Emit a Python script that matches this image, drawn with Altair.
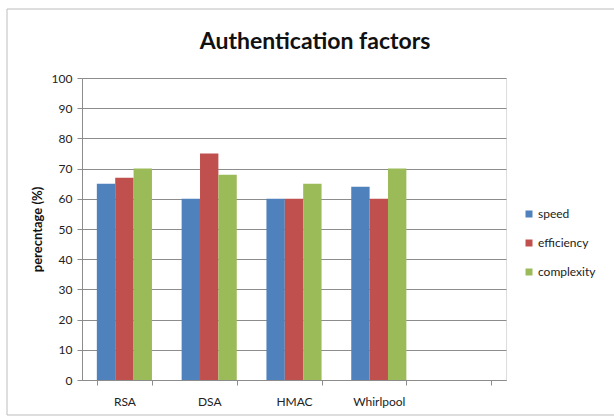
import altair as alt
import pandas as pd

# Algorithms on the x axis (the last slot is left empty)
algorithms = ["RSA", "DSA", "HMAC", "Whirlpool"]
x_slots = algorithms + [" "]

# Series and their values per algorithm (percent)
series = ["speed", "efficiency", "complexity"]
speed = [65, 60, 60, 64]
efficiency = [67, 75, 60, 60]
complexity = [70, 68, 65, 70]

colors = ["#4F81BD", "#C0504D", "#9BBB59"]
y_ticks = list(range(0, 101, 10))

rows = []
for name, vals in zip(series, [speed, efficiency, complexity]):
    for alg, v in zip(algorithms, vals):
        rows.append({"algorithm": alg, "factor": name, "value": v})
df = pd.DataFrame(rows)

FONT = "Lato"

bars = alt.Chart(df).mark_bar().encode(
    x=alt.X(
        "algorithm:N",
        scale=alt.Scale(domain=x_slots, paddingInner=0.35, paddingOuter=0.175),
        axis=alt.Axis(
            title=None,
            labelAngle=0,
            labelFont=FONT,
            labelFontSize=12,
            labelColor="#222222",
            labelPadding=11,
            tickBand="extent",
            ticks=True,
            tickSize=5,
            tickColor="#8c8c8c",
            domainColor="#8c8c8c",
            grid=False,
        ),
    ),
    xOffset=alt.XOffset("factor:N", scale=alt.Scale(domain=series)),
    y=alt.Y(
        "value:Q",
        scale=alt.Scale(domain=[0, 100], nice=False),
        axis=alt.Axis(
            title="perecntage (%)",
            values=y_ticks,
            titleFont=FONT,
            titleFontSize=13,
            titleFontWeight="bold",
            titleColor="#111111",
            titleAngle=-90,
            titleX=-45,
            titleY=151,
            titleAlign="center",
            titleBaseline="middle",
            labelFont=FONT,
            labelFontSize=12,
            labelColor="#222222",
            labelPadding=5,
            tickSize=5,
            tickColor="#8c8c8c",
            domainColor="#8c8c8c",
            gridColor="#8c8c8c",
            grid=True,
        ),
    ),
    color=alt.Color(
        "factor:N",
        scale=alt.Scale(domain=series, range=colors),
        legend=alt.Legend(
            title=None,
            orient="none",
            legendX=441,
            legendY=130,
            symbolType="square",
            symbolSize=49,
            symbolStrokeWidth=0,
            labelFont=FONT,
            labelFontSize=12,
            labelColor="#222222",
            labelOffset=3,
            rowPadding=17,
        ),
    ),
)

# Light frame around the chart area
frame = alt.Chart(pd.DataFrame({"k": [0]})).mark_rect(
    fill=None, stroke="#bdbdbd", strokeWidth=1
).encode(
    x=alt.value(-75), x2=alt.value(540), y=alt.value(-69), y2=alt.value(337)
)

# The title is offset from the top of the frame, which sits above the plot
chart = alt.layer(frame, bars).properties(
    width=424,
    height=302,
    padding={"left": 82, "top": 78, "right": 108, "bottom": 37},
    autosize=alt.AutoSizeParams(type="none"),
    title=alt.TitleParams(
        "Authentication factors",
        font=FONT,
        fontSize=23,
        fontWeight="bold",
        color="#111111",
        anchor="middle",
        frame="group",
        dx=21,
        offset=-63,
        baseline="alphabetic",
    ),
).configure_view(stroke=None).configure(background="white")

chart.save("out.html", embed_options={"renderer": "svg", "actions": False})
